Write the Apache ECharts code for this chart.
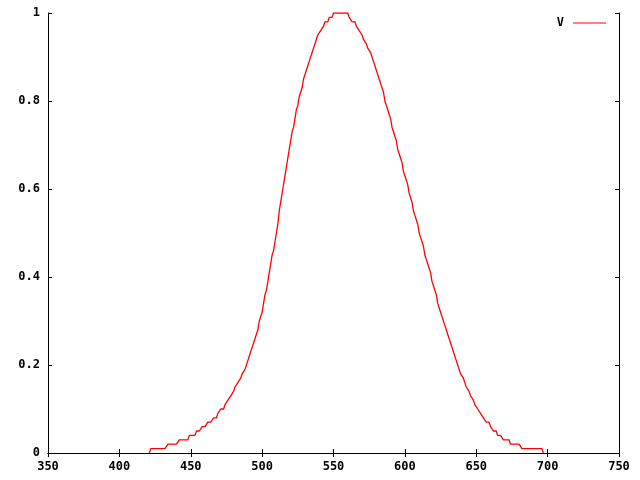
<!DOCTYPE html>
<html>
<head>
<meta charset="utf-8">
<script src="https://cdn.jsdelivr.net/npm/echarts@6/dist/echarts.min.js"></script>
<style>html,body{margin:0;padding:0;background:#fff;}#chart{width:640px;height:480px;}</style>
</head>
<body>
<div id="chart"></div>
<script>
// Wavelengths run from startWavelength in 1 nm steps
var seriesName = 'V';
var startWavelength = 421;
var vValues = [
  0,
  0.01,0.01,0.01,0.01,0.01,0.01,0.01,0.01,0.01,0.01,0.01,0.01,
  0.02,0.02,0.02,0.02,0.02,0.02,0.02,0.02,
  0.03,0.03,0.03,0.03,0.03,0.03,0.03,
  0.04,0.04,0.04,0.04,0.04,
  0.05,0.05,0.05,0.05,
  0.06,0.06,0.06,0.06,
  0.07,0.07,0.07,0.07,
  0.08,0.08,0.08,
  0.09,0.09,
  0.10,0.10,0.10,
  0.11,0.11,
  0.12,0.12,0.13,0.13,0.14,0.15,0.15,0.16,0.16,0.17,0.18,0.18,0.19,0.20,0.21,
  0.22,0.23,0.24,0.25,0.26,0.27,0.28,0.30,0.31,0.32,
  0.34,0.36,0.37,0.39,0.41,0.43,0.45,0.46,0.48,0.50,
  0.52,0.55,0.57,0.59,0.61,0.63,0.65,0.67,0.69,0.71,
  0.73,0.74,0.76,0.78,0.79,0.81,0.82,0.83,0.85,0.86,
  0.87,0.88,0.89,0.90,0.91,0.92,0.93,0.94,0.95,0.95,
  0.96,0.96,0.97,0.98,0.98,0.98,0.99,0.99,0.99,1.00,
  1.00,1.00,1.00,1.00,1.00,1.00,1.00,1.00,1.00,1.00,
  0.99,0.99,0.98,0.98,0.98,0.97,0.97,0.96,0.96,0.95,
  0.94,0.94,0.93,0.92,0.92,0.91,0.90,0.89,0.88,0.87,
  0.86,0.85,0.84,0.83,0.82,0.80,0.79,0.78,0.77,0.76,
  0.74,0.73,0.72,0.71,0.69,0.68,0.67,0.66,0.64,0.63,
  0.62,0.61,0.59,0.58,0.57,0.55,0.54,0.53,0.52,0.50,
  0.49,0.48,0.47,0.45,0.44,0.43,0.42,0.41,0.39,0.38,
  0.37,0.36,0.34,0.33,0.32,0.31,0.30,0.29,0.28,0.27,
  0.26,0.25,0.24,0.23,0.22,0.21,0.20,0.19,0.18,0.18,
  0.17,0.16,0.15,0.15,0.14,0.13,0.13,0.12,0.11,0.11,
  0.10,0.10,0.09,0.09,0.08,0.08,0.07,0.07,0.07,0.06,
  0.06,0.05,0.05,0.05,0.04,0.04,0.04,0.04,0.03,0.03,
  0.03,0.03,0.03,
  0.02,0.02,0.02,0.02,0.02,0.02,0.02,0.02,
  0.01,0.01,0.01,0.01,0.01,0.01,0.01,0.01,0.01,0.01,0.01,0.01,0.01,0.01,0.01,
  0
];
var xMin = 350, xMax = 750, xStep = 50;
var yMin = 0, yMax = 1, yStep = 0.2;

var points = vValues.map(function (v, i) { return [startWavelength + i, v]; });

var font = {fontFamily: 'DejaVu Sans Mono', fontWeight: 'bold', fontSize: 12, color: '#000'};
var axisLine = {show: true, lineStyle: {color: '#000', width: 1}};
var tick = {show: true, inside: true, length: 4, lineStyle: {color: '#000', width: 1}};

var chart = echarts.init(document.getElementById('chart'), null, {renderer: 'canvas'});
chart.setOption({
  animation: false,
  backgroundColor: '#fff',
  grid: {left: 48, right: 21, top: 13, bottom: 27, containLabel: false},
  legend: {
    data: [{name: seriesName, icon: 'rect'}],
    right: 34, top: 17, padding: 0,
    align: 'right',
    itemWidth: 33, itemHeight: 1,
    itemStyle: {color: '#ff0000', borderWidth: 0},
    textStyle: Object.assign({}, font, {padding: [0, 4, 0, 0]})
  },
  xAxis: [
    {type: 'value', min: xMin, max: xMax, interval: xStep, position: 'bottom',
     axisLine: axisLine, axisTick: tick, splitLine: {show: false},
     axisLabel: Object.assign({margin: 8}, font)},
    {type: 'value', min: xMin, max: xMax, interval: xStep, position: 'top',
     axisLine: axisLine, axisTick: tick, splitLine: {show: false},
     axisLabel: {show: false}}
  ],
  yAxis: [
    {type: 'value', min: yMin, max: yMax, interval: yStep, position: 'left',
     axisLine: axisLine, axisTick: tick, splitLine: {show: false},
     axisLabel: Object.assign({margin: 8}, font)},
    {type: 'value', min: yMin, max: yMax, interval: yStep, position: 'right',
     axisLine: axisLine, axisTick: tick, splitLine: {show: false},
     axisLabel: {show: false}}
  ],
  series: [{
    name: seriesName,
    type: 'line',
    xAxisIndex: 0, yAxisIndex: 0,
    data: points,
    symbol: 'none',
    showSymbol: false,
    lineStyle: {color: '#ff0000', width: 1.3},
    itemStyle: {color: '#ff0000'},
    z: 5
  }]
});
</script>
</body>
</html>
